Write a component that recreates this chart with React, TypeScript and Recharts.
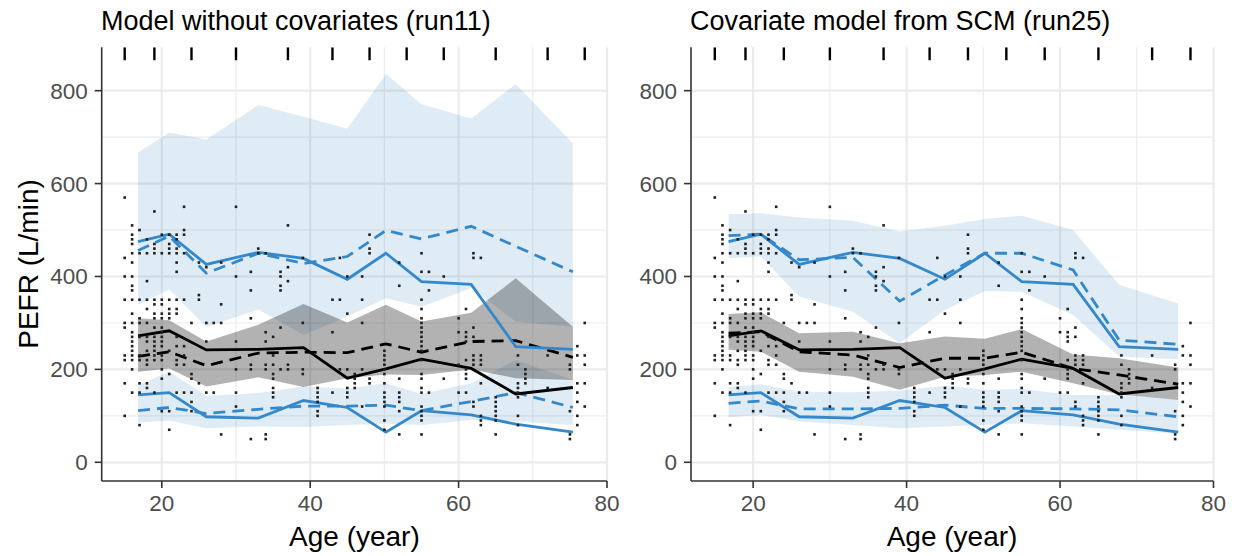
import React from "react";
import { ComposedChart, Area, Line, Scatter, XAxis, YAxis, CartesianGrid } from "recharts";

// bins (age, years)
const binMid = [16.8, 21.0, 26.0, 33.0, 39.1, 45.0, 50.2, 55.0, 61.7, 67.7, 75.4];
const binEdges = [15, 19, 24, 30, 37, 43, 48, 53, 58, 65, 72, 77];

// observed percentiles (same data in both panels)
const obsP05 = [145, 150, 98, 95, 133, 118, 65, 111, 102, 82, 65];
const obsP50 = [272, 283, 242, 243, 247, 181, 201, 222, 202, 147, 161];
const obsP95 = [475, 491, 426, 452, 439, 394, 450, 389, 383, 249, 243];

// run11: simulated percentiles and their CIs
const run11P05 = [111, 118, 105, 114, 121, 121, 123, 111, 131, 150, 118];
const run11P50 = [228, 238, 208, 235, 237, 236, 255, 237, 260, 262, 226];
const run11P95 = [456, 487, 407, 450, 428, 443, 499, 481, 508, 465, 410];
const run11Ci05Lo = [85, 90, 73, 77, 76, 80, 83, 80, 91, 88, 80];
const run11Ci05Hi = [166, 195, 143, 149, 163, 159, 170, 147, 170, 220, 177];
const run11Ci50Lo = [195, 202, 163, 183, 162, 181, 189, 188, 200, 181, 177];
const run11Ci50Hi = [310, 306, 260, 296, 341, 301, 339, 303, 322, 396, 292];
const run11Ci95Lo = [339, 372, 291, 329, 274, 314, 353, 335, 375, 303, 291];
const run11Ci95Hi = [667, 710, 695, 769, 744, 718, 836, 771, 740, 814, 687];

// run25
const run25P05 = [127, 132, 115, 115, 116, 123, 116, 116, 115, 113, 98];
const run25P50 = [278, 281, 238, 231, 204, 224, 224, 237, 202, 188, 168];
const run25P95 = [488, 491, 436, 441, 347, 403, 450, 450, 414, 263, 254];
const run25Ci05Lo = [97, 102, 88, 80, 73, 77, 80, 84, 77, 70, 62];
const run25Ci05Hi = [162, 168, 152, 151, 154, 165, 156, 158, 145, 145, 134];
const run25Ci50Lo = [242, 238, 195, 184, 156, 184, 188, 195, 170, 146, 134];
const run25Ci50Hi = [319, 323, 278, 281, 256, 271, 266, 287, 232, 224, 204];
const run25Ci95Lo = [439, 443, 357, 324, 256, 328, 369, 367, 317, 228, 222];
const run25Ci95Hi = [534, 536, 527, 520, 497, 509, 524, 531, 500, 382, 342];

// observations, grouped by age
const obsAges = [15, 16, 17, 18, 19, 20, 21, 22, 23, 24, 25, 26, 27, 28, 30, 32, 33, 34, 35, 36, 37, 39, 41, 43, 44, 45, 46, 47, 48, 50, 52, 55, 56, 58, 60, 61, 62, 63, 65, 68, 69, 72, 75, 76, 77];
const obsPefr = [
  [570, 440, 400, 350, 300, 290, 230, 220, 170, 100],
  [510, 490, 480, 470, 450, 430, 400, 380, 370, 350, 320, 300, 280, 270, 260, 250, 240, 230, 220, 200, 150],
  [500, 450, 350, 310, 300, 270, 230, 220, 170, 150, 80],
  [480, 450, 390, 350, 330, 300, 270, 260, 240, 220, 210, 170, 160],
  [540, 470, 460, 450, 350, 340, 320, 310, 290, 270, 260, 250, 240, 230, 220, 150],
  [490, 450, 350, 340, 320, 310, 290, 280, 270, 260, 250, 230, 220, 200, 180, 110],
  [490, 470, 460, 450, 350, 330, 320, 310, 240, 190, 110, 70],
  [490, 480, 460, 450, 430, 410, 350, 330, 320, 270, 250, 220, 210, 150],
  [550, 500, 490, 450, 350, 250, 230, 210, 150],
  [300, 190, 180, 150, 130, 110],
  [430, 360, 350, 170],
  [420, 300, 260, 150],
  [300, 150],
  [430, 340, 300, 60],
  [550, 400, 260, 200, 150, 120],
  [410, 370, 310, 210, 200, 50],
  [460, 450],
  [450, 280, 260, 210, 200, 60, 50],
  [270, 230, 210, 190, 180, 160, 150, 140],
  [410, 400, 380, 370, 290, 200],
  [510, 420, 390, 210, 200],
  [440, 300, 200, 190],
  [160, 150, 140, 130, 110, 100],
  [350, 280, 150],
  [440, 350, 200],
  [400, 320, 200, 160, 150, 140],
  [190, 180, 170, 160],
  [400, 350, 300, 200, 120],
  [490, 460, 450, 180, 170],
  [240, 230, 220, 210, 200, 190, 170, 150, 140, 130, 120, 90, 70],
  [430, 380, 180, 150, 140, 130, 110, 60],
  [450, 410, 350, 330, 310, 300, 290, 280, 270, 260, 250, 240, 220, 190, 180, 160, 150, 120, 110, 100, 90, 60],
  [410, 370, 150],
  [400, 180],
  [310, 280, 210, 150],
  [330, 280, 270, 260, 220, 200, 190, 180, 150],
  [450, 440, 290, 270, 230, 220, 210, 130, 120],
  [440, 230, 220, 210, 170, 100, 90, 80],
  [140, 130, 120, 110, 100, 90, 60],
  [230, 210, 170, 160, 150, 140, 100, 80],
  [200, 190, 180, 170],
  [230, 160],
  [210, 200, 110, 60, 50],
  [250, 230, 170, 150, 130, 100, 80],
  [300, 230, 210, 170, 120],
];

const ageTicks = [20, 40, 60, 80];
const ageMinor = [30, 50, 70];
const pefrTicks = [0, 200, 400, 600, 800];
const pefrMinor = [100, 300, 500, 700];

const X_MIN = 11.9;
const X_MAX = 80;
const Y_MIN = -40.3;
const Y_MAX = 893.4;

const BLUE = "#3388cc";
const BORDER = "#333333";

const points = obsAges.flatMap((age, i) => obsPefr[i].map((p) => ({ x: age, y: p })));
const edgeMarks = binEdges.map((x) => ({ x, y: Y_MAX }));

type Sim = {
  p05: number[]; p50: number[]; p95: number[];
  ci05Lo: number[]; ci05Hi: number[];
  ci50Lo: number[]; ci50Hi: number[];
  ci95Lo: number[]; ci95Hi: number[];
};

const run11: Sim = {
  p05: run11P05, p50: run11P50, p95: run11P95,
  ci05Lo: run11Ci05Lo, ci05Hi: run11Ci05Hi,
  ci50Lo: run11Ci50Lo, ci50Hi: run11Ci50Hi,
  ci95Lo: run11Ci95Lo, ci95Hi: run11Ci95Hi,
};
const run25: Sim = {
  p05: run25P05, p50: run25P50, p95: run25P95,
  ci05Lo: run25Ci05Lo, ci05Hi: run25Ci05Hi,
  ci50Lo: run25Ci50Lo, ci50Hi: run25Ci50Hi,
  ci95Lo: run25Ci95Lo, ci95Hi: run25Ci95Hi,
};

const dotShape = (p: any) => (
  <rect x={p.cx - 1.3} y={p.cy - 1.3} width={2.6} height={2.6} fill="#1f1f1f" />
);
const edgeShape = (p: any) => (
  <line x1={p.cx} y1={p.cy} x2={p.cx} y2={p.cy + 13} stroke="#000" strokeWidth={2.4} />
);

const tickStyle = { fill: "#4d4d4d", fontSize: 22.5 };
const lineStyle = { stroke: BORDER, strokeWidth: 1.6 };
const DASH = "12 7";
const LW = 2.8;

function VpcPanel({ width, yAxisWidth, rightMargin, sim }: { width: number; yAxisWidth: number; rightMargin: number; sim: Sim }) {
  const data = binMid.map((x, i) => ({
    x,
    obs05: obsP05[i],
    obs50: obsP50[i],
    obs95: obsP95[i],
    sim05: sim.p05[i],
    sim50: sim.p50[i],
    sim95: sim.p95[i],
    ci05: [sim.ci05Lo[i], sim.ci05Hi[i]],
    ci50: [sim.ci50Lo[i], sim.ci50Hi[i]],
    ci95: [sim.ci95Lo[i], sim.ci95Hi[i]],
  }));

  return (
    <ComposedChart width={width} height={556} data={data} margin={{ top: 47.3, right: rightMargin, bottom: 0, left: 0 }}>
      <CartesianGrid stroke="#ebebeb" strokeWidth={1.1} horizontalValues={pefrMinor} verticalValues={ageMinor} />
      <CartesianGrid stroke="#ebebeb" strokeWidth={2.2} horizontalValues={pefrTicks} verticalValues={ageTicks} />
      <XAxis
        dataKey="x"
        type="number"
        domain={[X_MIN, X_MAX]}
        ticks={ageTicks}
        interval={0}
        allowDataOverflow
        height={75}
        tick={tickStyle}
        tickSize={7}
        tickMargin={7}
        tickLine={lineStyle}
        axisLine={lineStyle}
      />
      <XAxis xAxisId="top" orientation="top" dataKey="x" type="number" domain={[X_MIN, X_MAX]} allowDataOverflow height={0} tick={false} tickLine={false} axisLine={lineStyle} />
      <YAxis
        type="number"
        domain={[Y_MIN, Y_MAX]}
        ticks={pefrTicks}
        interval={0}
        allowDataOverflow
        width={yAxisWidth}
        tick={tickStyle}
        tickSize={7}
        tickMargin={7}
        tickLine={lineStyle}
        axisLine={lineStyle}
      />
      <YAxis yAxisId="right" orientation="right" type="number" domain={[Y_MIN, Y_MAX]} allowDataOverflow width={0} tick={false} tickLine={false} axisLine={lineStyle} />

      <Area dataKey="ci95" type="linear" stroke="none" fill="#3182bd" fillOpacity={0.15} dot={false} activeDot={false} isAnimationActive={false} />
      <Area dataKey="ci05" type="linear" stroke="none" fill="#3182bd" fillOpacity={0.15} dot={false} activeDot={false} isAnimationActive={false} />
      <Area dataKey="ci50" type="linear" stroke="none" fill="#000000" fillOpacity={0.3} dot={false} activeDot={false} isAnimationActive={false} />

      <Scatter data={points} dataKey="y" shape={dotShape} isAnimationActive={false} />
      <Scatter data={edgeMarks} dataKey="y" shape={edgeShape} isAnimationActive={false} />

      <Line dataKey="sim95" type="linear" stroke={BLUE} strokeWidth={LW} strokeDasharray={DASH} dot={false} activeDot={false} isAnimationActive={false} />
      <Line dataKey="sim05" type="linear" stroke={BLUE} strokeWidth={LW} strokeDasharray={DASH} dot={false} activeDot={false} isAnimationActive={false} />
      <Line dataKey="sim50" type="linear" stroke="#000" strokeWidth={LW} strokeDasharray={DASH} dot={false} activeDot={false} isAnimationActive={false} />
      <Line dataKey="obs95" type="linear" stroke={BLUE} strokeWidth={LW} dot={false} activeDot={false} isAnimationActive={false} />
      <Line dataKey="obs05" type="linear" stroke={BLUE} strokeWidth={LW} dot={false} activeDot={false} isAnimationActive={false} />
      <Line dataKey="obs50" type="linear" stroke="#000" strokeWidth={LW} dot={false} activeDot={false} isAnimationActive={false} />
    </ComposedChart>
  );
}

export default function App() {
  return (
    <div style={{ position: "absolute", left: 0, top: 0, width: 1255, height: 556, background: "#fff", fontFamily: "'Liberation Sans', Arial, sans-serif" }}>
      <div style={{ position: "absolute", left: 0, top: 0 }}>
        <VpcPanel width={627} yAxisWidth={101.7} rightMargin={20} sim={run11} />
      </div>
      <div style={{ position: "absolute", left: 627, top: 0 }}>
        <VpcPanel width={628} yAxisWidth={64} rightMargin={41.5} sim={run25} />
      </div>
      <svg width={1255} height={556} style={{ position: "absolute", left: 0, top: 0, pointerEvents: "none" }}>
        <text x={101} y={30} fontSize={27} fill="#000">Model without covariates (run11)</text>
        <text x={690} y={30} fontSize={27} fill="#000">Covariate model from SCM (run25)</text>
        <text x={354.4} y={546} fontSize={28} fill="#000" textAnchor="middle">Age (year)</text>
        <text x={952} y={546} fontSize={28} fill="#000" textAnchor="middle">Age (year)</text>
        <text x={38} y={264} fontSize={28} fill="#000" textAnchor="middle" transform="rotate(-90 38 264)">PEFR (L/min)</text>
      </svg>
    </div>
  );
}
